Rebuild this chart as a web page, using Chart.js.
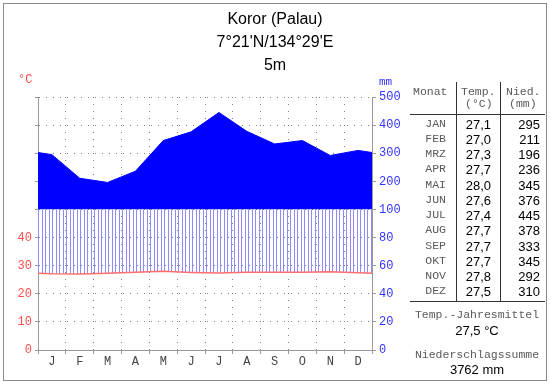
<!DOCTYPE html>
<html>
<head>
<meta charset="utf-8">
<script src="https://cdn.jsdelivr.net/npm/chart.js@4.4.1/dist/chart.umd.min.js"></script>
<style>
  body { margin: 0; background: #fff; }
  #wrap { position: relative; width: 550px; height: 384px; overflow: hidden; }
  #chart { position: absolute; left: 0; top: 0; }
  #frame { position: absolute; left: 3px; top: 3px; width: 544px; height: 378px; border: 1px solid #8a8a8a; box-sizing: border-box; }
  .t { position: absolute; white-space: nowrap; line-height: 1; }
  .mono { font-family: "Liberation Mono", "DejaVu Sans Mono", monospace; font-size: 11.5px; color: #5a5a5a; }
  .sans { font-family: "Liberation Sans", Arial, sans-serif; font-size: 13px; color: #000; }
  .title { font-family: "Liberation Sans", Arial, sans-serif; font-size: 16px; color: #000; }
  .rule { position: absolute; background: #333; }
</style>
</head>
<body>
<div id="wrap">
  <div id="frame"></div>
  <canvas id="chart" width="550" height="384"></canvas>
</div>
<script>
"use strict";

// station
const stationName = "Koror (Palau)";
const stationCoords = "7°21'N/134°29'E";
const stationHeight = "5m";

// monthly data
const months = ["J", "F", "M", "A", "M", "J", "J", "A", "S", "O", "N", "D"];
const monthNames = ["JAN", "FEB", "MRZ", "APR", "MAI", "JUN", "JUL", "AUG", "SEP", "OKT", "NOV", "DEZ"];
const temperature = [27.1, 27.0, 27.3, 27.7, 28.0, 27.6, 27.4, 27.7, 27.7, 27.7, 27.8, 27.5];
const precipitation = [295, 211, 196, 236, 345, 376, 445, 378, 333, 345, 292, 310];

// axis ticks
const tempLabels = [0, 10, 20, 30, 40];
const precipTicks = [0, 20, 40, 60, 80, 100, 200, 300, 400, 500];

const wrap = document.getElementById("wrap");

function place(text, x, y, cls, align) {
    let d = document.createElement("div");
    d.className = "t " + cls;
    d.textContent = text;
    d.style.left = x + "px";
    d.style.top = y + "px";
    let tx = align === "right" ? "-100%" : (align === "center" ? "-50%" : "0");
    d.style.transform = `translate(${tx}, -50%)`;
    wrap.appendChild(d);
    return d;
}

function rule(x, y, w, h) {
    let d = document.createElement("div");
    d.className = "rule";
    d.style.left = x + "px";
    d.style.top = y + "px";
    d.style.width = w + "px";
    d.style.height = h + "px";
    wrap.appendChild(d);
}

const de = (v) => v.toFixed(1).replace(".", ",");

//TITLE//
place(stationName, 275, 19, "title", "center");
place(stationCoords, 275, 42, "title", "center");
place(stationHeight, 275, 65, "title", "center");

let degLabel = place("°C", 18, 80, "mono", "left");
degLabel.style.color = "#ff4d4d";
degLabel.style.fontSize = "12px";
let mmLabel = place("mm", 379, 82, "mono", "left");
mmLabel.style.color = "#3333ff";
mmLabel.style.fontSize = "11px";

//TABLE//
place("Monat", 413, 92, "mono", "left");
place("Temp.", 461, 92, "mono", "left");
place("(°C)", 465, 104, "mono", "left");
place("Nied.", 506, 92, "mono", "left");
place("(mm)", 509, 104, "mono", "left");
rule(456, 82, 1, 220);
rule(500, 82, 1, 220);
rule(410, 114, 135, 1);
rule(410, 301, 135, 1);

monthNames.forEach((m, i) => {
    let y = 123.5 + i * 15.27;
    place(m, 446, y, "mono", "right");
    place(de(temperature[i]), 491, y, "sans", "right");
    place(String(precipitation[i]), 540, y, "sans", "right");
});

let meanTemp = temperature.reduce((a, b) => a + b, 0) / temperature.length;
let totalPrecip = precipitation.reduce((a, b) => a + b, 0);
place("Temp.-Jahresmittel", 477, 315, "mono", "center");
place(de(meanTemp) + " °C", 477, 330, "sans", "center");
place("Niederschlagssumme", 477, 355, "mono", "center");
place(totalPrecip + " mm", 477, 369, "sans", "center");

//PRECIP SCALE: 20 mm steps up to 100, then 100 mm steps//
class PrecipScale extends Chart.LinearScale {
    static id = "precip";
    buildTicks() {
        return precipTicks.map(v => ({ value: v }));
    }
    getPixelForValue(v) {
        let u = v <= 100 ? v : 100 + (v - 100) / 5;
        return this.getPixelForDecimal(u / 180);
    }
    getValueForPixel(p) {
        let u = this.getDecimalForPixel(p) * 180;
        return u <= 100 ? u : 100 + (u - 100) * 5;
    }
}
Chart.register(PrecipScale);

// points at month centres, plus Dec/Jan on both sides so the line wraps over the year
function yearPoints(values) {
    let pts = values.map((v, i) => ({ x: i + 0.5, y: v }));
    pts.unshift({ x: -0.5, y: values[values.length - 1] });
    pts.push({ x: values.length + 0.5, y: values[0] });
    return pts;
}

function hatchPattern() {
    let c = document.createElement("canvas");
    c.width = 7;
    c.height = 4;
    let g = c.getContext("2d");
    g.fillStyle = "#8c8cff";
    g.fillRect(0, 0, 1, 4);
    g.fillRect(3, 0, 1, 4);
    return g.createPattern(c, "repeat");
}

const monoFont = { family: "'Liberation Mono', monospace", size: 12 };
const hatch = hatchPattern();
const isEdge = (v) => Number.isInteger(v);

const ctx = document.getElementById("chart").getContext("2d");
const climateChart = new Chart(ctx, {
    type: "line",
    data: {
        datasets: [
            {
                label: "Temperatur",
                yAxisID: "yT",
                data: yearPoints(temperature),
                borderColor: "#ff6e6e",
                borderWidth: 1.5,
                backgroundColor: hatch,
                fill: { target: { value: 50 }, above: hatch, below: hatch },
                pointRadius: 0,
                tension: 0,
                clip: 0
            },
            {
                label: "Niederschlag",
                yAxisID: "yP",
                data: yearPoints(precipitation),
                borderColor: "#0000ff",
                borderWidth: 1,
                backgroundColor: "#0000ff",
                fill: { target: { value: 100 }, above: "#0000ff", below: "transparent" },
                pointRadius: 0,
                tension: 0,
                clip: 0
            }
        ]
    },
    options: {
        responsive: false,
        animation: false,
        devicePixelRatio: 1,
        layout: { padding: { top: 97, left: 0, right: 0, bottom: 0 } },
        plugins: {
            legend: { display: false },
            tooltip: { enabled: false }
        },
        scales: {
            x: {
                type: "linear",
                min: 0,
                max: 12,
                z: 1,
                afterBuildTicks: (scale) => {
                    let t = [];
                    for (let i = 0; i <= months.length * 2; i++) t.push({ value: i / 2 });
                    scale.ticks = t;
                },
                afterFit: (scale) => { scale.height = 34; },
                grid: {
                    color: (c) => isEdge(c.tick.value) ? "#808080" : "transparent",
                    tickColor: (c) => isEdge(c.tick.value) ? "#999" : "transparent",
                    tickLength: 4
                },
                border: { color: "#999", dash: [1, 6] },
                ticks: {
                    autoSkip: false,
                    maxRotation: 0,
                    padding: 1,
                    color: "#444",
                    font: monoFont,
                    callback: (v) => isEdge(v) ? "" : months[Math.floor(v)]
                }
            },
            yT: {
                type: "linear",
                position: "left",
                min: 0,
                max: 90,
                z: 1,
                afterFit: (scale) => { scale.width = 38; },
                grid: { color: "#808080", tickColor: "#999", tickLength: 3 },
                border: { color: "#999", dash: [1, 6] },
                ticks: {
                    stepSize: 10,
                    autoSkip: false,
                    padding: 3,
                    color: "#ff4d4d",
                    font: monoFont,
                    callback: (v) => tempLabels.includes(v) ? String(v) : ""
                }
            },
            yP: {
                type: "precip",
                position: "right",
                min: 0,
                max: 500,
                z: 1,
                afterFit: (scale) => { scale.width = 178; },
                grid: { drawOnChartArea: false, tickColor: "#999", tickLength: 4 },
                border: { color: "#999" },
                ticks: {
                    autoSkip: false,
                    padding: 3,
                    color: "#3333ff",
                    font: monoFont,
                    callback: (v) => String(v)
                }
            }
        }
    }
});
</script>
</body>
</html>
